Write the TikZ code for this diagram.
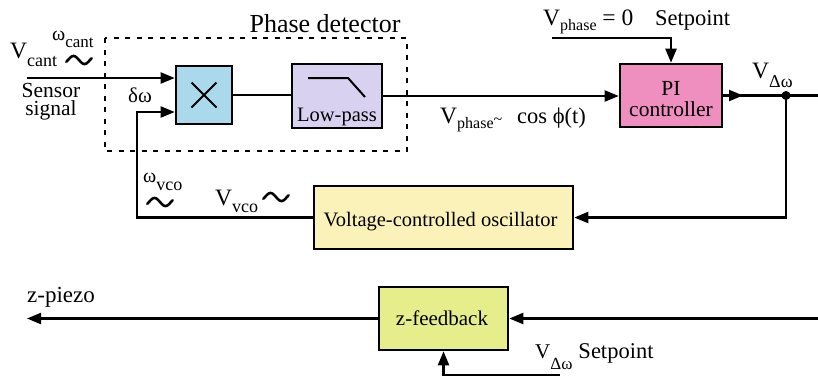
\documentclass[tikz,border=0pt]{standalone}
\usepackage{fontspec}
\setmainfont{Liberation Serif}
\usetikzlibrary{arrows.meta}
\definecolor{cmult}{HTML}{A9D9EA}
\definecolor{clp}{HTML}{D8D2F0}
\definecolor{cpi}{HTML}{EF8FC0}
\definecolor{cvco}{HTML}{FBF2B9}
\definecolor{czfb}{HTML}{E5EE8A}
\newcommand\fsz[1]{\fontsize{#1}{#1}\selectfont}
\newcommand\lowsub[3]{\raisebox{-#1pt}{\fsz{#2}#3}}
\newcommand\wavy[2]{\draw[tl] plot[domain=-1.15:1.15, samples=40, smooth] ({#1+11*\x},{#2+4*sin(180*\x)});}
\tikzset{
 blk/.style={draw, line width=2.6pt, inner sep=0pt},
 ln/.style={line width=2.2pt},
 arr/.style={ln, -{Triangle[length=14pt,width=11pt]}},
 lbl/.style={inner sep=0pt, anchor=base west},
 lblc/.style={inner sep=0pt, anchor=base},
 tl/.style={line width=2.6pt, line cap=round},
 dashbox/.style={line width=2.4pt, dash pattern=on 5pt off 6.5pt},
}
\begin{document}
\begin{tikzpicture}[x=1pt,y=-1pt]
\useasboundingbox[fill=white] (0,0) rectangle (818,376);
\draw[dashbox] (105,38) rectangle (407,151);
% blocks
\node[blk, fill=cmult, minimum width=56pt, minimum height=58pt] (mult) at (204,95) {};
\draw[line width=2pt] ([shift={(-12.5pt,12.5pt)}]mult.center) -- ([shift={(12.5pt,-12.5pt)}]mult.center);
\draw[line width=2pt] ([shift={(-12.5pt,-12.5pt)}]mult.center) -- ([shift={(12.5pt,12.5pt)}]mult.center);
\node[blk, fill=clp, minimum width=90pt, minimum height=64pt] (lp) at (337,96) {};
\draw[line width=2pt] (308,78) -- (348,78) -- (365,97);
\node[lblc, font=\fsz{20.5}] (lpt) at (337,121) {Low-pass};
\node[blk, fill=cpi, minimum width=102pt, minimum height=63pt] (pi) at (671,95.5) {};
\node[lblc, font=\fsz{21.5}] (pia) at (671,95) {PI};
\node[lblc, font=\fsz{21.5}] (pib) at (671,116) {controller};
\node[blk, fill=cvco, minimum width=259pt, minimum height=63pt] (vco) at (443.5,217.5) {};
\node[lblc, font=\fsz{20.5}] (vcot) at (440.5,226) {Voltage-controlled oscillator};
\node[blk, fill=czfb, minimum width=129pt, minimum height=63pt] (zfb) at (443.5,318.5) {};
\node[lblc, font=\fsz{21}] (zfbt) at (442,325) {z-feedback};
% labels
\node[lblc, font=\fsz{26}] (pd) at (325,32) {Phase detector};
\node[inner sep=0pt, anchor=south, align=center, font=\fontsize{21.5}{17.5}\selectfont] (sen) at (51,120) {Sensor\\signal};
\node[lbl, font=\fsz{23.5}] (vc) at (10,58) {V\lowsub{8}{18}{cant}};
\node[lbl, font=\fsz{20}] (wc) at (52,40) {ω\lowsub{7}{17}{cant}};
\node[lbl, font=\fsz{21}] (dw) at (128,102) {δω};
\node[lbl, font=\fsz{20}] (wv) at (143,182) {ω\lowsub{8}{18}{vco}};
\node[lbl, font=\fsz{23.5}] (vv) at (215,205) {V\lowsub{7}{18}{vco}};
\node[lbl, font=\fsz{23.5}] (vp) at (543,25) {V\lowsub{5}{16}{phase} = 0};
\node[lbl, font=\fsz{22.5}] (sp1t) at (655,25) {Setpoint};
\node[lbl, font=\fsz{23.5}] (vpc) at (440,123) {V\lowsub{5}{16}{phase}\raisebox{-1pt}{\fsz{16}\textasciitilde}};
\node[lbl, font=\fsz{22.5}] (cos) at (517,123) {cos ϕ(t)};
\node[lbl, font=\fsz{23.5}] (vdw) at (752,78) {V\lowsub{9}{18}{Δω}};
\node[lbl, font=\fsz{21}] (vdw2) at (535,358) {V\lowsub{11}{17}{Δω}\hspace{6pt}\fsz{22.5}Setpoint};
\node[lbl, font=\fsz{23}] (zp) at (27,302) {z-piezo};
% tildes
\wavy{79}{60}
\wavy{160}{202}
\wavy{276}{197}
% connectors
\coordinate (sIn) at (27,78);
\draw[arr] (sIn) -- ([yshift=17pt]mult.west);
\draw[ln] (mult.east) -- (mult.east -| lp.west);
\draw[arr] (lp.east) -- (lp.east -| pi.west);
\coordinate (sp1) at (552,38);
\draw[arr] (sp1) -| (pi.north);
\coordinate (otip) at (743,95.5);
\coordinate (oedge) at (820,95.5);
\draw[ln] (pi.east) -- (oedge);
\draw[arr] (pi.east) -- (otip);
\node[circle, fill, inner sep=0pt, minimum size=9pt] (dot) at (786,95.5) {};
\draw[arr] (dot.center) |- (vco.east);
\coordinate (lc) at (137,217.5);
\draw[arr] (vco.west) -- (lc) |- ([yshift=-17pt]mult.west);
\coordinate (zr) at (820,318.5);
\coordinate (zl) at (27,318.5);
\draw[arr] (zr) -- (zfb.east);
\draw[arr] (zfb.west) -- (zl);
\coordinate (sp2) at (560,375);
\draw[arr] (sp2) -| (zfb.south);
\end{tikzpicture}
\end{document}
